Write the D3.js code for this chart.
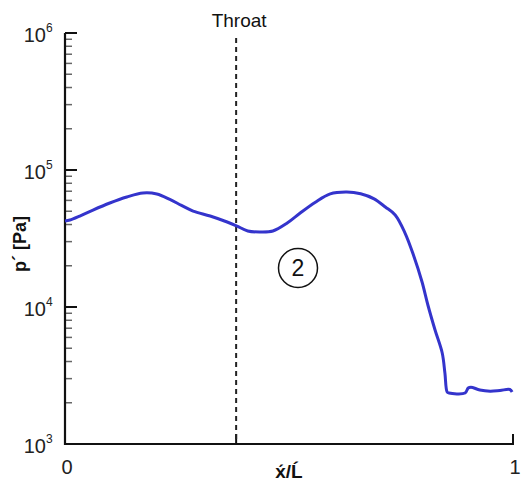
<!DOCTYPE html>
<html>
<head>
<meta charset="utf-8">
<script src="https://cdn.jsdelivr.net/npm/d3@7"></script>
<style>
  html, body { margin: 0; padding: 0; background: #fff; }
  svg { display: block; font-family: "Liberation Sans", Arial, sans-serif; }
</style>
</head>
<body>
<svg id="chart" width="526" height="481"></svg>
<script>
// Axial position along the nozzle, normalised by its length
const xPos = [0, 0.011, 0.033, 0.0625, 0.100, 0.138, 0.174, 0.205, 0.234, 0.260,
  0.286, 0.324, 0.362, 0.384, 0.408, 0.435, 0.464, 0.496, 0.525, 0.558,
  0.592, 0.629, 0.660, 0.690, 0.715, 0.737, 0.759, 0.777, 0.797, 0.810, 0.826,
  0.842, 0.848, 0.853, 0.857, 0.893, 0.900, 0.906, 0.926, 0.949, 0.971,
  0.993, 0.998];
// Static pressure in Pa
const pressure = [42400, 43150, 46150, 51050, 57440, 63520, 67960, 66820, 61000, 55200,
  50180, 46150, 41720, 39000, 35890, 35290, 35890, 41030, 48550, 58000,
  67000, 69100, 67000, 61500, 53700, 46950, 34680, 24370, 15220, 10340, 6795,
  4617, 3298, 2396, 2357, 2357, 2563, 2600, 2478, 2430, 2460,
  2500, 2396];

const yTickExps = [3, 4, 5, 6];
const xTickValues = [0, 1];
const xTickLabels = ["0", "1"];
const throatX = 0.382;
const throatLabel = "Throat";
const regionLabel = "2";
const xTitle = "x\u0301/\u0139";
const yTitle = "p\u00b4 [Pa]";

const svg = d3.select("#chart");
const x = d3.scaleLinear().domain([0, 1]).range([65, 513]);
const y = d3.scaleLog().domain([1e3, 1e6]).range([444, 33]);

// Minor ticks on the log axis (2..9 per decade)
const minor = [];
for (let e = 3; e < 6; e++) for (let m = 2; m <= 9; m++) minor.push(m * Math.pow(10, e));

const axisCol = "#111";

svg.append("g").selectAll("line").data(minor).join("line")
  .attr("x1", x(0)).attr("x2", x(0) + 7)
  .attr("y1", d => y(d)).attr("y2", d => y(d))
  .attr("stroke", "#666").attr("stroke-width", 1.5);

svg.append("g").selectAll("line").data(yTickExps).join("line")
  .attr("x1", x(0)).attr("x2", x(0) + 12)
  .attr("y1", d => y(Math.pow(10, d))).attr("y2", d => y(Math.pow(10, d)))
  .attr("stroke", axisCol).attr("stroke-width", 2);

// Y tick labels as 10 with superscript exponent
svg.append("g").selectAll("text").data(yTickExps).join("text")
  .attr("x", 46).attr("y", d => y(Math.pow(10, d)) + 9)
  .attr("text-anchor", "end").attr("font-size", 20).attr("fill", "#222")
  .text("10");
svg.append("g").selectAll("text").data(yTickExps).join("text")
  .attr("x", 46).attr("y", d => y(Math.pow(10, d)) - 1)
  .attr("font-size", 12).attr("fill", "#222")
  .text(d => d);

// X ticks
svg.append("g").selectAll("line").data(xTickValues.concat([throatX])).join("line")
  .attr("x1", d => x(d)).attr("x2", d => x(d))
  .attr("y1", y(1e3)).attr("y2", y(1e3) - 10)
  .attr("stroke", axisCol).attr("stroke-width", 2);
svg.append("g").selectAll("text").data(xTickValues).join("text")
  .attr("x", d => x(d) + 2).attr("y", 474)
  .attr("text-anchor", "middle").attr("font-size", 20).attr("fill", "#222")
  .text((d, i) => xTickLabels[i]);

// Throat marker
svg.append("line")
  .attr("x1", x(throatX)).attr("x2", x(throatX))
  .attr("y1", 38).attr("y2", y(1e3))
  .attr("stroke", "#222").attr("stroke-width", 2)
  .attr("stroke-dasharray", "5,4");
svg.append("text").attr("x", x(throatX) + 3).attr("y", 27)
  .attr("text-anchor", "middle").attr("font-size", 19).attr("fill", "#111")
  .text(throatLabel);

// Axes lines
svg.append("line").attr("x1", x(0)).attr("x2", x(0))
  .attr("y1", y(1e6)).attr("y2", y(1e3) + 1)
  .attr("stroke", axisCol).attr("stroke-width", 2.2);
svg.append("line").attr("x1", x(0) - 1).attr("x2", x(1) + 1)
  .attr("y1", y(1e3)).attr("y2", y(1e3))
  .attr("stroke", axisCol).attr("stroke-width", 2.2);

// Pressure curve
const data = xPos.map((v, i) => [v, pressure[i]]);
svg.append("path").datum(data)
  .attr("fill", "none").attr("stroke", "#3434cc").attr("stroke-width", 3)
  .attr("stroke-linejoin", "round")
  .attr("d", d3.line().x(d => x(d[0])).y(d => y(d[1])).curve(d3.curveCatmullRom.alpha(0.5)));

// Region marker
svg.append("circle").attr("cx", 298).attr("cy", 268).attr("r", 19.5)
  .attr("fill", "none").attr("stroke", "#111").attr("stroke-width", 1.5);
svg.append("text").attr("x", 298).attr("y", 276).attr("text-anchor", "middle")
  .attr("font-size", 23).attr("fill", "#111").text(regionLabel);

// Axis titles
svg.append("text").attr("x", 289).attr("y", 478).attr("text-anchor", "middle")
  .attr("font-size", 19).attr("font-weight", "bold").attr("fill", "#111").text(xTitle);
svg.append("text").attr("transform", "translate(26,244) rotate(-90)")
  .attr("text-anchor", "middle").attr("font-size", 18).attr("font-weight", "bold")
  .attr("fill", "#111").text(yTitle);
</script>
</body>
</html>
